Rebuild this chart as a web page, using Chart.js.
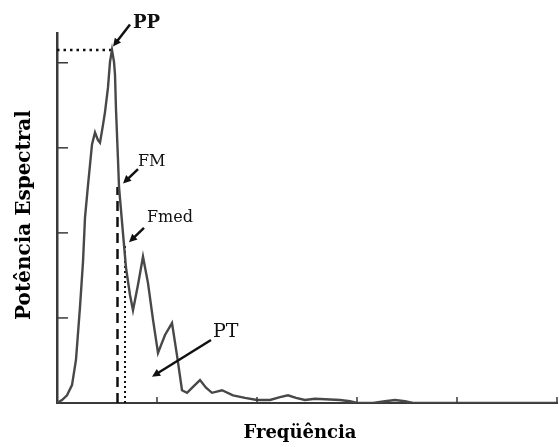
<!DOCTYPE html>
<html>
<head>
<meta charset="utf-8">
<script src="https://cdn.jsdelivr.net/npm/chart.js@4"></script>
<style>
  html, body { margin: 0; padding: 0; background: #fff; }
  #wrap { width: 559px; height: 447px; }
</style>
</head>
<body>
<div id="wrap"><canvas id="spectrum"></canvas></div>
<script>
// espectro de potência (frequência em unidades do eixo, potência em unidades do eixo)
const freq = [0, 0.05, 0.10, 0.15, 0.19, 0.23, 0.26, 0.28, 0.31, 0.35, 0.38, 0.41, 0.43, 0.46, 0.48, 0.51, 0.53, 0.55,
    0.57, 0.58, 0.59, 0.61, 0.62, 0.65, 0.67, 0.69, 0.73, 0.76, 0.81, 0.86, 0.91, 0.96, 1.01, 1.08, 1.15, 1.20, 1.25,
    1.30, 1.36, 1.43, 1.49, 1.55, 1.65, 1.76, 1.88, 2.00, 2.13, 2.23, 2.31, 2.39, 2.48, 2.58, 2.83, 2.93, 3.00, 3.16,
    3.28, 3.38, 3.48, 3.56, 5.00];
const power = [0, 0.035, 0.09, 0.21, 0.51, 1.13, 1.66, 2.18, 2.56, 3.04, 3.18, 3.09, 3.06, 3.27, 3.42, 3.71, 4.01, 4.15,
    4.01, 3.86, 3.45, 2.86, 2.54, 2.13, 1.86, 1.59, 1.27, 1.09, 1.39, 1.72, 1.41, 0.98, 0.59, 0.80, 0.94, 0.56, 0.15,
    0.12, 0.19, 0.27, 0.18, 0.12, 0.15, 0.09, 0.06, 0.035, 0.035, 0.07, 0.09, 0.06, 0.035, 0.05, 0.035, 0.02, 0, 0,
    0.02, 0.035, 0.02, 0, 0];

const xTicks = [1, 2, 3, 4, 5];
const yTicks = [1, 2, 3, 4];

// PP = pico de potência, FM = frequência média, Fmed = frequência mediana
const peakFreq = 0.55, peakPower = 4.15;
const fmFreq = 0.605, fmTop = 2.54;
const fmedFreq = 0.68, fmedTop = 1.88;

// rótulos: texto, posição do texto e ponta da seta (em unidades dos eixos)
const notes = [
    { text: 'PP', bold: true, size: 18, tx: 0.76, ty: 4.41, ax0: 0.73, ay0: 4.45, ax1: 0.56, ay1: 4.19 },
    { text: 'FM', bold: false, size: 16, tx: 0.81, ty: 2.79, ax0: 0.81, ay0: 2.75, ax1: 0.66, ay1: 2.58 },
    { text: 'Fmed', bold: false, size: 16, tx: 0.90, ty: 2.13, ax0: 0.87, ay0: 2.06, ax1: 0.72, ay1: 1.89 },
    { text: 'PT', bold: false, size: 19, tx: 1.56, ty: 0.78, ax0: 1.54, ay0: 0.74, ax1: 0.95, ay1: 0.31 }
];

const pts = freq.map((f, i) => ({ x: f, y: power[i] }));

const axisColor = '#3a3a3a';

const decorPlugin = {
    id: 'decor',
    afterDraw(chart) {
        const { ctx, chartArea, scales } = chart;
        const xs = scales.x, ys = scales.y;
        ctx.save();
        ctx.strokeStyle = axisColor;
        ctx.lineWidth = 1.5;
        // marcas dos eixos, voltadas para dentro
        xTicks.forEach(t => {
            const px = xs.getPixelForValue(t);
            ctx.beginPath();
            ctx.moveTo(px, chartArea.bottom);
            ctx.lineTo(px, chartArea.bottom - 6);
            ctx.stroke();
        });
        yTicks.forEach(t => {
            const py = ys.getPixelForValue(t);
            ctx.beginPath();
            ctx.moveTo(chartArea.left, py);
            ctx.lineTo(chartArea.left + 11, py);
            ctx.stroke();
        });

        // setas e textos
        notes.forEach(n => {
            const x0 = xs.getPixelForValue(n.ax0), y0 = ys.getPixelForValue(n.ay0);
            const x1 = xs.getPixelForValue(n.ax1), y1 = ys.getPixelForValue(n.ay1);
            const ang = Math.atan2(y1 - y0, x1 - x0);
            ctx.strokeStyle = '#111';
            ctx.fillStyle = '#111';
            ctx.lineWidth = 2.5;
            ctx.beginPath();
            ctx.moveTo(x0, y0);
            ctx.lineTo(x1 - 6 * Math.cos(ang), y1 - 6 * Math.sin(ang));
            ctx.stroke();
            ctx.beginPath();
            ctx.moveTo(x1, y1);
            ctx.lineTo(x1 - 9 * Math.cos(ang - 0.45), y1 - 9 * Math.sin(ang - 0.45));
            ctx.lineTo(x1 - 9 * Math.cos(ang + 0.45), y1 - 9 * Math.sin(ang + 0.45));
            ctx.closePath();
            ctx.fill();

            ctx.font = (n.bold ? 'bold ' : '') + n.size + 'px "DejaVu Serif", serif';
            ctx.textAlign = 'left';
            ctx.textBaseline = 'alphabetic';
            ctx.fillText(n.text, xs.getPixelForValue(n.tx), ys.getPixelForValue(n.ty));
        });

        // títulos dos eixos
        ctx.fillStyle = '#000';
        ctx.font = 'bold 18px "DejaVu Serif", serif';
        ctx.textAlign = 'center';
        ctx.textBaseline = 'middle';
        ctx.fillText('Freqüência', 300, chartArea.bottom + 30);
        ctx.save();
        ctx.translate(25, 215);
        ctx.rotate(-Math.PI / 2);
        ctx.font = 'bold 20px "DejaVu Serif", serif';
        ctx.fillText('Potência Espectral', 0, 0);
        ctx.restore();
        ctx.restore();
    }
};

new Chart(document.getElementById('spectrum').getContext('2d'), {
    type: 'line',
    data: {
        datasets: [
            {
                data: pts,
                borderColor: '#484848',
                borderWidth: 2.4,
                pointRadius: 0,
                tension: 0
            },
            {
                // linha pontilhada até o pico (PP)
                data: [{ x: 0, y: peakPower }, { x: peakFreq, y: peakPower }],
                borderColor: '#111',
                borderWidth: 2.5,
                borderDash: [2.5, 4],
                pointRadius: 0
            },
            {
                // frequência média (FM)
                data: [{ x: fmFreq, y: 0 }, { x: fmFreq, y: fmTop }],
                borderColor: '#111',
                borderWidth: 2.5,
                borderDash: [10, 6],
                pointRadius: 0
            },
            {
                // frequência mediana (Fmed)
                data: [{ x: fmedFreq, y: 0 }, { x: fmedFreq, y: fmedTop }],
                borderColor: '#111',
                borderWidth: 2,
                borderDash: [2, 3],
                pointRadius: 0
            }
        ]
    },
    options: {
        responsive: true,
        maintainAspectRatio: false,
        animation: false,
        layout: { padding: { top: 33, right: 2, left: 0, bottom: 0 } },
        plugins: {
            legend: { display: false },
            tooltip: { enabled: false }
        },
        scales: {
            x: {
                type: 'linear',
                min: 0,
                max: 5,
                grid: { display: false },
                border: { display: true, color: axisColor, width: 2 },
                ticks: { display: false },
                afterFit(scale) { scale.height = 44; }
            },
            y: {
                type: 'linear',
                min: 0,
                max: 4.35,
                grid: { display: false },
                border: { display: true, color: axisColor, width: 2.5 },
                ticks: { display: false },
                afterFit(scale) { scale.width = 57; }
            }
        }
    },
    plugins: [decorPlugin]
});
</script>
</body>
</html>
